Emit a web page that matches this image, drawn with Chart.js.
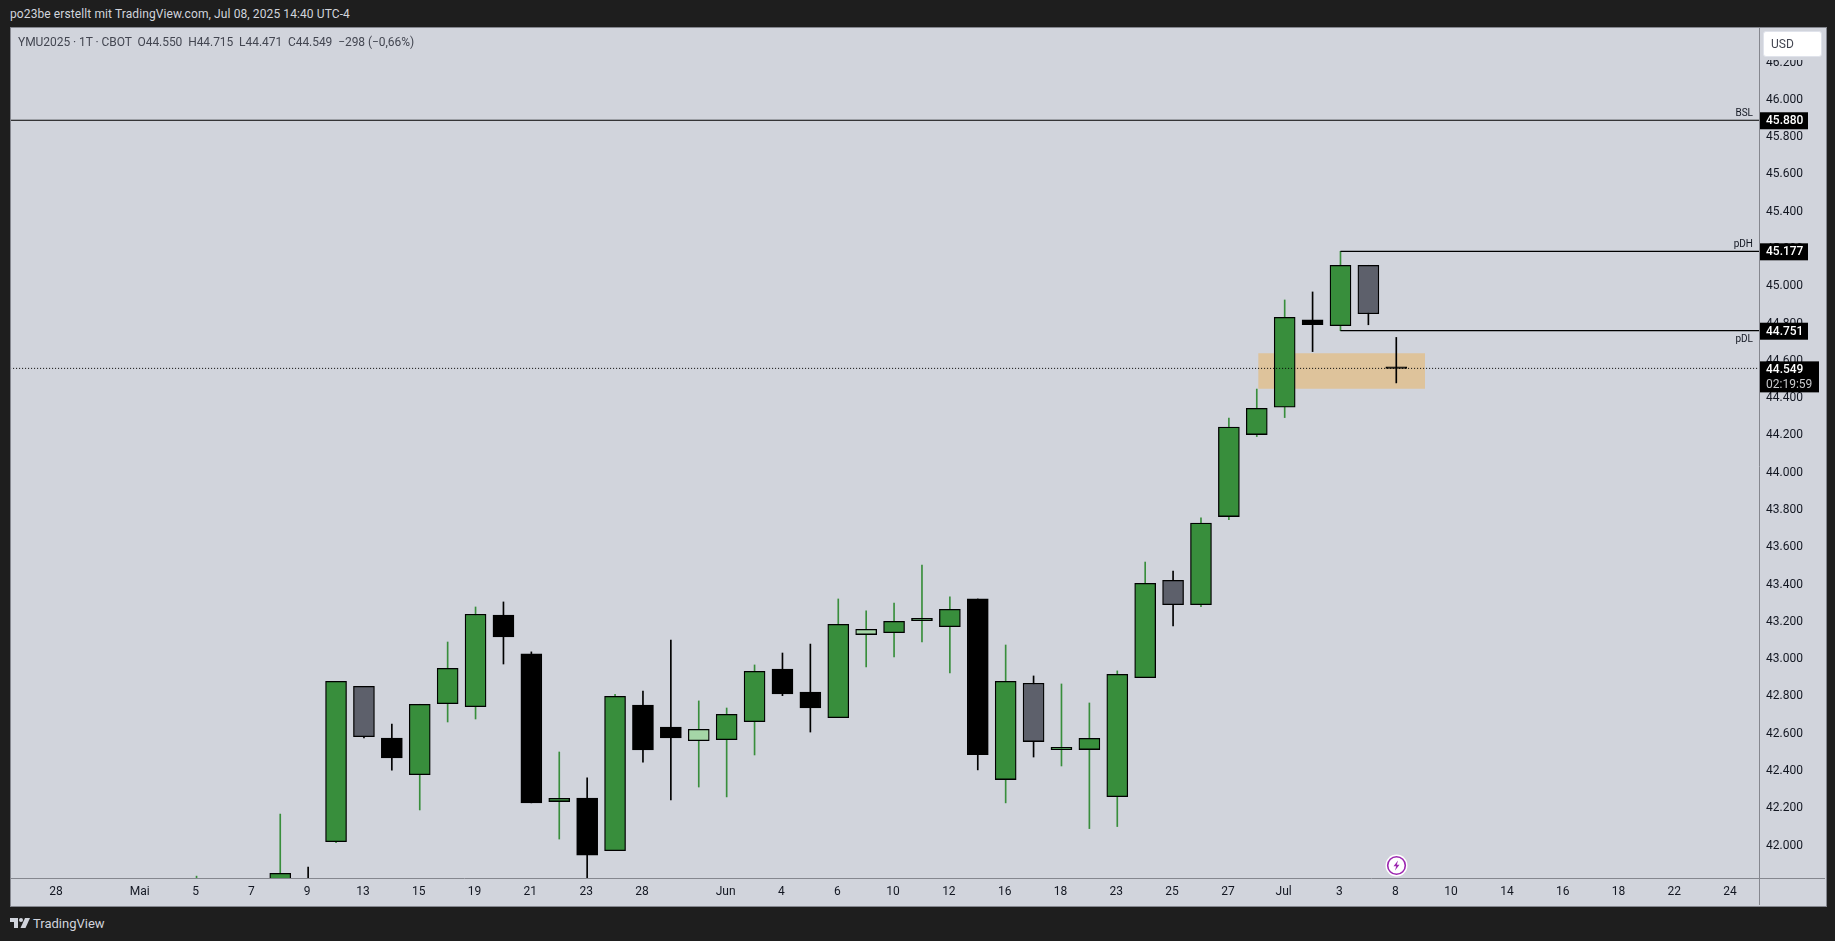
<!DOCTYPE html>
<html>
<head>
<meta charset="utf-8">
<title>YMU2025</title>
<script src="https://cdn.jsdelivr.net/npm/chart.js@4/dist/chart.umd.min.js"></script>
<style>
    html, body { margin: 0; padding: 0; width: 1835px; height: 941px; overflow: hidden; background: #1e1e1e; }
    body { position: relative; font-family: Roboto, sans-serif; }
    #header { position: absolute; left: 10px; top: 6px; font-size: 12px; line-height: 16px; color: #d1d4dc; letter-spacing: 0.1px; }
    #panel { position: absolute; left: 10px; top: 27px; width: 1815px; height: 878px; background: #d1d4dc; border: 1px solid #85878f; }
    #chart { position: absolute; left: 11px; top: 28px; }
    #legend { position: absolute; left: 18px; top: 34px; font-size: 12px; line-height: 16px; color: #434651; white-space: pre; letter-spacing: -0.05px; }
    #usd { position: absolute; left: 1763px; top: 31px; width: 50px; height: 24px; padding-left: 7px; font-size: 12px; line-height: 25px; color: #434651; background: #fff; border: 1px solid #e0e3eb; border-radius: 3px; box-shadow: 0 3px 0 #d1d4dc; }
    #bolt { position: absolute; left: 1385px; top: 854px; }
    #logo { position: absolute; left: 10px; top: 917px; }
    #brand { position: absolute; left: 33px; top: 915px; font-size: 13px; line-height: 18px; color: #d1d4dc; }
</style>
</head>
<body>
<div id="header">po23be erstellt mit TradingView.com, Jul 08, 2025 14:40 UTC-4</div>
<div id="panel"></div>
<canvas id="chart" width="1814" height="877" style="width:1814px;height:877px"></canvas>
<div id="legend">YMU2025 · 1T · CBOT  O44.550  H44.715  L44.471  C44.549  −298 (−0,66%)</div>
<div id="usd">USD</div>
<svg id="bolt" width="23" height="23" viewBox="0 0 23 23">
    <circle cx="11.5" cy="11.5" r="11" fill="#fff"/>
    <circle cx="11.5" cy="11.5" r="8.8" fill="none" stroke="#9c27b0" stroke-width="1.6"/>
    <path d="M13 6.5 L8.5 12.3 L11.2 12.3 L10 16.5 L14.5 10.7 L11.8 10.7 Z" fill="#9c27b0"/>
</svg>
<svg id="logo" width="20" height="12" viewBox="0 0 20 12">
    <path d="M0 1 H8 V11 H4 V5 H0 Z" fill="#d1d4dc"/>
    <circle cx="11" cy="3" r="2" fill="#d1d4dc"/>
    <path d="M15 1 H20 L15.5 11 H10.5 Z" fill="#d1d4dc"/>
</svg>
<div id="brand">TradingView</div>

<script>
///////////////////////////////////////
//////////////// Data /////////////////
///////////////////////////////////////

// bar number counted in trading days from Apr 28
const barIndex = [5, 8, 9, 10, 11, 12, 13, 14, 15, 16, 17, 18, 19, 20, 21, 22, 23, 24, 25, 26, 27, 28, 29, 30, 31, 32, 33, 34, 35, 36, 37, 38, 39, 40, 41, 42, 43, 44, 45, 46, 47, 48];
const opens = [41.55, 41.62, 41.78, 42.01, 42.843, 42.566, 42.369, 42.75, 42.734, 43.226, 43.017, 42.225, 42.244, 41.962, 42.743, 42.625, 42.552, 42.557, 42.654, 42.936, 42.813, 42.675, 43.121, 43.131, 43.196, 43.163, 43.312, 42.343, 42.86, 42.504, 42.504, 42.251, 42.89, 43.412, 43.281, 43.754, 44.194, 44.341, 44.809, 44.778, 45.102, 44.55];
const highs = [41.825, 42.158, 41.874, 42.87, 42.843, 42.641, 42.747, 43.081, 43.269, 43.296, 43.028, 42.491, 42.352, 42.80, 42.818, 43.092, 42.765, 42.727, 42.958, 43.022, 43.07, 43.312, 43.248, 43.29, 43.494, 43.323, 43.312, 43.065, 42.899, 42.856, 42.754, 42.926, 43.51, 43.462, 43.747, 44.283, 44.438, 44.916, 44.959, 45.177, 45.102, 44.715];
const lows = [41.5, 41.58, 41.5, 42.005, 42.566, 42.394, 42.18, 42.652, 42.668, 42.963, 42.218, 42.024, 41.8, 41.962, 42.437, 42.234, 42.303, 42.25, 42.475, 42.793, 42.598, 42.675, 42.947, 43.001, 43.081, 42.915, 42.395, 42.218, 42.464, 42.416, 42.08, 42.091, 42.89, 43.167, 43.271, 43.737, 44.183, 44.285, 44.639, 44.751, 44.783, 44.471];
const closes = [41.70, 41.84, 41.6, 42.87, 42.573, 42.459, 42.747, 42.94, 43.23, 43.108, 42.218, 42.243, 41.938, 42.79, 42.502, 42.566, 42.613, 42.693, 42.924, 42.802, 42.727, 43.176, 43.149, 43.192, 43.208, 43.256, 42.477, 42.87, 42.547, 42.516, 42.564, 42.908, 43.396, 43.281, 43.719, 44.234, 44.335, 44.823, 44.783, 45.102, 44.842, 44.549];
// g green, k black, s slate, p pale green
const candleKinds = ['g', 'g', 'k', 'g', 's', 'k', 'g', 'g', 'g', 'k', 'k', 'g', 'k', 'g', 'k', 'k', 'p', 'g', 'g', 'k', 'k', 'g', 'p', 'g', 'g', 'g', 'k', 'g', 's', 'g', 'g', 'g', 'g', 's', 'g', 'g', 'g', 'g', 'k', 'g', 's', 'k'];

const xTickBars = [0, 3, 5, 7, 9, 11, 13, 15, 17, 19, 21, 24, 26, 28, 30, 32, 34, 36, 38, 40, 42, 44, 46, 48, 50, 52, 54, 56, 58, 60];
const xTickLabels = ['28', 'Mai', '5', '7', '9', '13', '15', '19', '21', '23', '28', 'Jun', '4', '6', '10', '12', '16', '18', '23', '25', '27', 'Jul', '3', '8', '10', '14', '16', '18', '22', '24'];
const yTicks = [42, 42.2, 42.4, 42.6, 42.8, 43, 43.2, 43.4, 43.6, 43.8, 44, 44.2, 44.4, 44.6, 44.8, 45, 45.2, 45.4, 45.6, 45.8, 46, 46.2];

const bslLevel = 45.880;
const pdhLevel = 45.177;
const pdlLevel = 44.751;
const lastPrice = 44.549;
const levelStartBar = 46;
const zoneBars = [43.05, 49.03];
const zoneTop = 44.63;
const zoneBottom = 44.44;
const countdown = '02:19:59';

///////////////////////////////////////
/////////////// Helpers ///////////////
///////////////////////////////////////

const XMIN = -1.65, XMAX = 61.0, YMIN = 41.815, YMAX = 46.375;
const bodyColors = { g: '#388e3c', k: '#000000', s: '#5d606b', p: '#a5d6a7' };
const wickColors = { g: '#388e3c', k: '#000000', s: '#000000', p: '#388e3c' };
const FONT = 'Roboto, sans-serif';

function levelLine(level, fromBar, dash) {
    return {
        type: 'line',
        data: [{ x: fromBar, y: level }, { x: XMAX + 1, y: level }],
        borderColor: '#000000',
        borderWidth: dash ? 1 : 1.2,
        borderDash: dash || [],
        pointRadius: 0,
        clip: 0,
        order: 1
    };
}

// price tags and small line labels on top of the axis
const overlayPlugin = {
    id: 'overlay',
    afterDraw(chart) {
        const c = chart.ctx, y = chart.scales.y, right = chart.chartArea.right, bottom = chart.chartArea.bottom;
        c.save();
        c.strokeStyle = '#85878f';
        c.lineWidth = 1;
        c.beginPath();
        c.moveTo(right + 0.5, 0);
        c.lineTo(right + 0.5, chart.height);
        c.moveTo(0, bottom + 0.5);
        c.lineTo(chart.width, bottom + 0.5);
        c.stroke();

        function tag(level, text) {
            const py = y.getPixelForValue(level);
            c.fillStyle = '#000000';
            c.fillRect(right + 1, py - 8, 48, 17);
            c.fillStyle = '#ffffff';
            c.font = '500 12px ' + FONT;
            c.textAlign = 'left';
            c.textBaseline = 'middle';
            c.fillText(text, right + 7, py + 1);
        }
        function note(text, py) {
            c.fillStyle = '#131722';
            c.font = '10px ' + FONT;
            c.textAlign = 'right';
            c.textBaseline = 'middle';
            c.fillText(text, right - 6, py);
        }
        tag(bslLevel, bslLevel.toFixed(3));
        tag(pdhLevel, pdhLevel.toFixed(3));
        tag(pdlLevel, pdlLevel.toFixed(3));
        note('BSL', y.getPixelForValue(bslLevel) - 7);
        note('pDH', y.getPixelForValue(pdhLevel) - 7);
        note('pDL', y.getPixelForValue(pdlLevel) + 9);

        const lp = y.getPixelForValue(lastPrice);
        c.fillStyle = '#000000';
        c.fillRect(right + 1, lp - 7, 59, 31);
        c.fillStyle = '#ffffff';
        c.font = '500 12px ' + FONT;
        c.textAlign = 'left';
        c.textBaseline = 'middle';
        c.fillText(lastPrice.toFixed(3), right + 7, lp + 2);
        c.fillStyle = '#c8c9cc';
        c.font = '12px ' + FONT;
        c.fillText(countdown, right + 7, lp + 17);
        c.restore();
    }
};

///////////////////////////////////////
/////////////// Candles ///////////////
///////////////////////////////////////

const ctx = document.getElementById('chart');
const myChart = new Chart(ctx, {
    data: {
        datasets: [
            // Horizontal levels
            levelLine(bslLevel, XMIN - 1, null),
            levelLine(pdhLevel, levelStartBar, null),
            levelLine(pdlLevel, levelStartBar, null),
            levelLine(lastPrice, XMIN - 1, [1, 2]),
            // Candle bodies
            {
                type: 'bar',
                data: barIndex.map((b, i) => ({ x: b, y: [opens[i], closes[i]] })),
                backgroundColor: candleKinds.map(k => bodyColors[k]),
                borderColor: '#000000',
                borderWidth: 1.3,
                borderSkipped: false,
                barThickness: 21,
                minBarLength: 1.5,
                grouped: false,
                clip: 0,
                order: 3
            },
            // Wicks
            {
                type: 'bar',
                data: barIndex.map((b, i) => ({ x: b, y: [lows[i], highs[i]] })),
                backgroundColor: candleKinds.map(k => wickColors[k]),
                barThickness: 1,
                grouped: false,
                clip: 0,
                order: 4
            },
            // Orange zone
            {
                type: 'line',
                data: zoneBars.map(b => ({ x: b, y: zoneTop })),
                borderWidth: 0,
                pointRadius: 0,
                backgroundColor: '#dec39b',
                fill: { value: zoneBottom },
                order: 5
            }
        ]
    },
    options: {
        responsive: false,
        animation: false,
        events: [],
        layout: { padding: 0 },
        plugins: { legend: { display: false }, tooltip: { enabled: false } },
        scales: {
            x: {
                type: 'linear',
                offset: false,
                min: XMIN,
                max: XMAX,
                grid: { display: false, drawTicks: false },
                border: { display: false },
                afterFit(scale) { scale.height = 27; scale.paddingLeft = 0; scale.paddingRight = 0; },
                afterBuildTicks(scale) { scale.ticks = xTickBars.map(v => ({ value: v })); },
                ticks: {
                    autoSkip: false,
                    maxRotation: 0,
                    padding: 7,
                    labelOffset: -1,
                    color: '#131722',
                    font: { family: FONT, size: 12 },
                    callback: value => xTickLabels[xTickBars.indexOf(value)]
                }
            },
            y: {
                position: 'right',
                min: YMIN,
                max: YMAX,
                grid: { display: false, drawTicks: false },
                border: { display: false },
                afterFit(scale) { scale.width = 66; scale.paddingTop = 0; scale.paddingBottom = 0; },
                afterBuildTicks(scale) { scale.ticks = yTicks.map(v => ({ value: v })); },
                ticks: {
                    autoSkip: false,
                    padding: 7,
                    labelOffset: 2,
                    color: '#131722',
                    font: { family: FONT, size: 12 },
                    callback: value => value.toFixed(3)
                }
            }
        }
    },
    plugins: [overlayPlugin]
});
</script>
</body>
</html>
